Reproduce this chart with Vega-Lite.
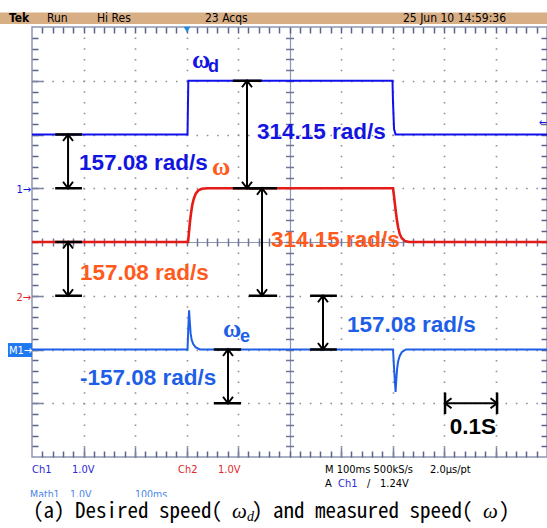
{
  "$schema": "https://vega.github.io/schema/vega-lite/v6.json",
  "width": 515,
  "height": 430,
  "autosize": {"type": "none"},
  "padding": {"left": 32, "top": 27, "right": 0, "bottom": 71},
  "background": "white",
  "config": {"view": {"stroke": "#8E97B3", "strokeWidth": 1.5}},
  "datasets": {
    "traces": [
      {"t": 0, "v": 2, "series": "wd"}, {"t": 302, "v": 2, "series": "wd"}, {"t": 303.5, "v": 3, "series": "wd"},
      {"t": 700, "v": 3, "series": "wd"}, {"t": 701, "v": 2.6, "series": "wd"}, {"t": 703, "v": 2.1, "series": "wd"},
      {"t": 706, "v": 2, "series": "wd"}, {"t": 1000, "v": 2, "series": "wd"},
      {"t": 0, "v": 0, "series": "w"}, {"t": 303, "v": 0, "series": "w"}, {"t": 305, "v": 0.2, "series": "w"},
      {"t": 307, "v": 0.4, "series": "w"}, {"t": 309, "v": 0.55, "series": "w"}, {"t": 311, "v": 0.68, "series": "w"},
      {"t": 314, "v": 0.8, "series": "w"}, {"t": 318, "v": 0.9, "series": "w"}, {"t": 323, "v": 0.96, "series": "w"},
      {"t": 330, "v": 0.99, "series": "w"}, {"t": 340, "v": 1, "series": "w"}, {"t": 701, "v": 1, "series": "w"},
      {"t": 703, "v": 0.85, "series": "w"}, {"t": 705, "v": 0.68, "series": "w"}, {"t": 707, "v": 0.52, "series": "w"},
      {"t": 709, "v": 0.38, "series": "w"}, {"t": 711, "v": 0.27, "series": "w"}, {"t": 714, "v": 0.15, "series": "w"},
      {"t": 718, "v": 0.07, "series": "w"}, {"t": 724, "v": 0.02, "series": "w"}, {"t": 732, "v": 0, "series": "w"},
      {"t": 1000, "v": 0, "series": "w"},
      {"t": 0, "v": -2, "series": "we"}, {"t": 302, "v": -2, "series": "we"}, {"t": 303.5, "v": -1.6, "series": "we"},
      {"t": 305, "v": -1.27, "series": "we"}, {"t": 306.5, "v": -1.5, "series": "we"}, {"t": 308, "v": -1.7, "series": "we"},
      {"t": 310, "v": -1.82, "series": "we"}, {"t": 313, "v": -1.9, "series": "we"}, {"t": 318, "v": -1.96, "series": "we"},
      {"t": 326, "v": -2, "series": "we"}, {"t": 701, "v": -2, "series": "we"}, {"t": 703, "v": -2.35, "series": "we"},
      {"t": 705, "v": -2.65, "series": "we"}, {"t": 706, "v": -2.79, "series": "we"}, {"t": 707.5, "v": -2.55, "series": "we"},
      {"t": 709, "v": -2.35, "series": "we"}, {"t": 711, "v": -2.22, "series": "we"}, {"t": 714, "v": -2.12, "series": "we"},
      {"t": 718, "v": -2.05, "series": "we"}, {"t": 726, "v": -2, "series": "we"}, {"t": 1000, "v": -2, "series": "we"}
    ],
    "arrows": [
      {"x": 70, "xl": 45, "xr": 97, "y1": 2, "y2": 1},
      {"x": 417.5, "xl": 390, "xr": 446, "y1": 3, "y2": 1},
      {"x": 446.6, "xl": 421, "xr": 476, "y1": 1, "y2": -1},
      {"x": 70, "xl": 45, "xr": 97, "y1": 0, "y2": -1},
      {"x": 380.6, "xl": 353, "xr": 406, "y1": -2, "y2": -3},
      {"x": 565, "xl": 540, "xr": 592, "y1": -1, "y2": -2}
    ],
    "harrow": [{"x1": 802, "x2": 903, "y": -3, "yt": -2.8, "yb": -3.2}],
    "trig": [{"x": 301, "y": 3.95}],
    "boxes": [
      {"kind": "hdr", "x": -63, "x2": 1000, "y": 4.27, "y2": 4.056},
      {"kind": "m1", "x": -46.6, "x2": 0, "y": -1.88, "y2": -2.14},
      {"kind": "cover", "x": -63, "x2": 1000, "y": -4.745, "y2": -5.4}
    ],
    "labels": [
      {"text": "157.08 rad/s", "x": 91.3, "y": 1.34, "role": "big", "series": "wd"},
      {"text": "314.15 rad/s", "x": 436.9, "y": 1.91, "role": "big", "series": "wd"},
      {"text": "314.15 rad/s", "x": 464, "y": -0.093, "role": "big", "series": "wl"},
      {"text": "157.08 rad/s", "x": 93.2, "y": -0.707, "role": "big", "series": "wl"},
      {"text": "-157.08 rad/s", "x": 93.2, "y": -2.66, "role": "big", "series": "we"},
      {"text": "157.08 rad/s", "x": 611.7, "y": -1.674, "role": "big", "series": "we"},
      {"text": "0.1S", "x": 811, "y": -3.572, "role": "big", "series": "k"},
      {"text": "ω", "x": 310.7, "y": 3.237, "role": "omega", "series": "wd"},
      {"text": "ω", "x": 349.5, "y": 1.2465, "role": "omega", "series": "wl"},
      {"text": "ω", "x": 370.9, "y": -1.767, "role": "omega", "series": "we"},
      {"text": "d", "x": 341.7, "y": 3.163, "role": "sub", "series": "wd"},
      {"text": "e", "x": 403.9, "y": -1.86, "role": "sub", "series": "we"},
      {"text": "Tek", "x": -44.7, "y": 4.084, "role": "tek", "series": "k"},
      {"text": "Run", "x": 29.1, "y": 4.084, "role": "hdr", "series": "k"},
      {"text": "Hi Res", "x": 126.2, "y": 4.084, "role": "hdr", "series": "k"},
      {"text": "23 Acqs", "x": 335.9, "y": 4.084, "role": "hdr", "series": "k"},
      {"text": "25 Jun 10 14:59:36", "x": 720.4, "y": 4.084, "role": "hdr", "series": "k"},
      {"text": "Ch1", "x": 0, "y": -4.298, "role": "stat", "series": "ch1"},
      {"text": "1.0V", "x": 77.7, "y": -4.298, "role": "stat", "series": "ch1"},
      {"text": "Ch2", "x": 283.5, "y": -4.298, "role": "stat", "series": "ch2"},
      {"text": "1.0V", "x": 361.2, "y": -4.298, "role": "stat", "series": "ch2"},
      {"text": "M 100ms 500kS/s", "x": 569, "y": -4.298, "role": "stat", "series": "k"},
      {"text": "2.0μs/pt", "x": 772.8, "y": -4.298, "role": "stat", "series": "k"},
      {"text": "A", "x": 569, "y": -4.558, "role": "stat", "series": "k"},
      {"text": "Ch1", "x": 594.2, "y": -4.558, "role": "stat", "series": "ch1"},
      {"text": "/", "x": 650.5, "y": -4.558, "role": "stat", "series": "k"},
      {"text": "1.24V", "x": 675.7, "y": -4.558, "role": "stat", "series": "k"},
      {"text": "Math1", "x": -3.9, "y": -4.77, "role": "math", "series": "math"},
      {"text": "1.0V", "x": 73.8, "y": -4.77, "role": "math", "series": "math"},
      {"text": "100ms", "x": 200, "y": -4.77, "role": "math", "series": "math"},
      {"text": "M1→", "x": -44.7, "y": -2.08, "role": "m1", "series": "k"},
      {"text": "1→", "x": -1.9, "y": 0.92, "role": "mk", "series": "wd"},
      {"text": "2→", "x": -1.9, "y": -1.09, "role": "mk", "series": "ch2"},
      {"text": "←", "x": 1000, "y": 2.16, "role": "mk2", "series": "wd"},
      {"text": "(a) Desired speed( ", "x": 1.94, "y": -5.135, "role": "cap", "series": "k"},
      {"text": ") and measured speed( ", "x": 427.2, "y": -5.135, "role": "cap", "series": "k"},
      {"text": ")", "x": 906.8, "y": -5.135, "role": "cap", "series": "k"},
      {"text": "ω", "x": 388.3, "y": -5.135, "role": "capit", "series": "k"},
      {"text": "ω", "x": 875.7, "y": -5.135, "role": "capit", "series": "k"},
      {"text": "d", "x": 417.5, "y": -5.19, "role": "capsub", "series": "k"}
    ]
  },
  "resolve": {"scale": {"x": "independent", "y": "independent"}, "axis": {"x": "independent", "y": "independent"}},
  "layer": [
    {
      "data": {"name": "traces"},
      "transform": [{"filter": "datum.series === 'wd'"}],
      "mark": {"type": "line", "strokeWidth": 2, "color": "#1010EE"},
      "encoding": {
        "x": {"field": "t", "type": "quantitative", "scale": {"domain": [0, 1000], "nice": false, "zero": false},
          "axis": {"orient": "bottom", "title": null, "labels": false, "ticks": false, "domain": false, "grid": true,
            "values": [100, 200, 300, 400, 600, 700, 800, 900], "gridColor": "#8F8F8F", "gridWidth": 1.6, "gridDash": [1.6, 9.15], "gridDashOffset": 0.8}},
        "y": {"field": "v", "type": "quantitative", "scale": {"domain": [-4, 4], "nice": false, "zero": false},
          "axis": {"orient": "left", "title": null, "labels": false, "ticks": false, "domain": false, "grid": true,
            "values": [-3, -2, -1, 1, 2, 3], "gridColor": "#8F8F8F", "gridWidth": 1.6, "gridDash": [1.6, 8.7], "gridDashOffset": 0.8}}
      }
    },
    {
      "data": {"name": "traces"},
      "transform": [{"filter": "datum.series === 'w'"}],
      "mark": {"type": "line", "strokeWidth": 2.6, "color": "#E41B17"},
      "encoding": {
        "x": {"field": "t", "type": "quantitative", "scale": {"domain": [0, 1000], "nice": false, "zero": false},
          "axis": {"orient": "bottom", "offset": -6, "title": null, "labels": false, "ticks": true, "tickSize": 6, "tickWidth": 1.5, "tickColor": "#5A6488", "domain": false, "grid": false,
            "values": [20,40,60,80,100,120,140,160,180,200,220,240,260,280,300,320,340,360,380,400,420,440,460,480,500,520,540,560,580,600,620,640,660,680,700,720,740,760,780,800,820,840,860,880,900,920,940,960,980]}},
        "y": {"field": "v", "type": "quantitative", "scale": {"domain": [-4, 4], "nice": false, "zero": false},
          "axis": {"orient": "left", "offset": -6, "title": null, "labels": false, "ticks": true, "tickSize": 6, "tickWidth": 1.5, "tickColor": "#5A6488", "domain": false, "grid": false,
            "values": [-3.8,-3.6,-3.4,-3.2,-3,-2.8,-2.6,-2.4,-2.2,-2,-1.8,-1.6,-1.4,-1.2,-1,-0.8,-0.6,-0.4,-0.2,0,0.2,0.4,0.6,0.8,1,1.2,1.4,1.6,1.8,2,2.2,2.4,2.6,2.8,3,3.2,3.4,3.6,3.8]}}
      }
    },
    {
      "data": {"name": "traces"},
      "transform": [{"filter": "datum.series === 'we'"}],
      "mark": {"type": "line", "strokeWidth": 2, "color": "#1F5FE8"},
      "encoding": {
        "x": {"field": "t", "type": "quantitative", "scale": {"domain": [0, 1000], "nice": false, "zero": false},
          "axis": {"orient": "top", "offset": -6, "title": null, "labels": false, "ticks": true, "tickSize": 6, "tickWidth": 1.5, "tickColor": "#5A6488", "domain": false, "grid": false,
            "values": [20,40,60,80,100,120,140,160,180,200,220,240,260,280,300,320,340,360,380,400,420,440,460,480,500,520,540,560,580,600,620,640,660,680,700,720,740,760,780,800,820,840,860,880,900,920,940,960,980]}},
        "y": {"field": "v", "type": "quantitative", "scale": {"domain": [-4, 4], "nice": false, "zero": false},
          "axis": {"orient": "right", "offset": -6, "title": null, "labels": false, "ticks": true, "tickSize": 6, "tickWidth": 1.5, "tickColor": "#5A6488", "domain": false, "grid": false,
            "values": [-3.8,-3.6,-3.4,-3.2,-3,-2.8,-2.6,-2.4,-2.2,-2,-1.8,-1.6,-1.4,-1.2,-1,-0.8,-0.6,-0.4,-0.2,0,0.2,0.4,0.6,0.8,1,1.2,1.4,1.6,1.8,2,2.2,2.4,2.6,2.8,3,3.2,3.4,3.6,3.8]}}
      }
    },
    {
      "data": {"name": "arrows"},
      "mark": {"type": "rule", "color": "black", "strokeWidth": 2},
      "encoding": {
        "x": {"field": "x", "type": "quantitative", "scale": {"domain": [0, 1000], "nice": false, "zero": false},
          "axis": {"orient": "bottom", "offset": -219, "title": null, "labels": false, "ticks": true, "tickSize": 8, "tickWidth": 1.5, "tickColor": "#6C7698", "domain": false, "grid": false,
            "values": [20,40,60,80,100,120,140,160,180,200,220,240,260,280,300,320,340,360,380,400,420,440,460,480,500,520,540,560,580,600,620,640,660,680,700,720,740,760,780,800,820,840,860,880,900,920,940,960,980]}},
        "y": {"field": "y1", "type": "quantitative", "scale": {"domain": [-4, 4], "nice": false, "zero": false},
          "axis": {"orient": "left", "offset": -261.5, "title": null, "labels": false, "ticks": true, "tickSize": 8, "tickWidth": 1.5, "tickColor": "#6C7698", "domain": false, "grid": false,
            "values": [-3.8,-3.6,-3.4,-3.2,-3,-2.8,-2.6,-2.4,-2.2,-2,-1.8,-1.6,-1.4,-1.2,-1,-0.8,-0.6,-0.4,-0.2,0,0.2,0.4,0.6,0.8,1,1.2,1.4,1.6,1.8,2,2.2,2.4,2.6,2.8,3,3.2,3.4,3.6,3.8]}},
        "y2": {"field": "y2"}
      }
    },
    {
      "data": {"name": "arrows"},
      "mark": {"type": "rule", "color": "black", "strokeWidth": 2.5},
      "encoding": {
        "x": {"field": "xl", "type": "quantitative", "scale": {"domain": [0, 1000], "nice": false, "zero": false},
          "axis": {"orient": "bottom", "offset": -10, "title": null, "labels": false, "ticks": true, "tickSize": 10, "tickWidth": 1.5, "tickColor": "#7C84A2", "domain": false, "grid": false,
            "values": [100, 200, 300, 400, 600, 700, 800, 900]}},
        "x2": {"field": "xr"},
        "y": {"field": "y1", "type": "quantitative", "scale": {"domain": [-4, 4], "nice": false, "zero": false},
          "axis": {"orient": "left", "offset": -11, "title": null, "labels": false, "ticks": true, "tickSize": 11, "tickWidth": 1.5, "tickColor": "#7C84A2", "domain": false, "grid": false,
            "values": [-3, -2, -1, 1, 2, 3]}}
      }
    },
    {
      "data": {"name": "arrows"},
      "mark": {"type": "rule", "color": "black", "strokeWidth": 2.5},
      "encoding": {
        "x": {"field": "xl", "type": "quantitative", "scale": {"domain": [0, 1000], "nice": false, "zero": false},
          "axis": {"orient": "top", "title": null, "labels": false, "ticks": false, "domain": false, "grid": true,
            "values": [500], "gridColor": "#8E97B3", "gridWidth": 1.2, "gridDash": []}},
        "x2": {"field": "xr"},
        "y": {"field": "y2", "type": "quantitative", "scale": {"domain": [-4, 4], "nice": false, "zero": false},
          "axis": {"orient": "right", "title": null, "labels": false, "ticks": false, "domain": false, "grid": true,
            "values": [0], "gridColor": "#8E97B3", "gridWidth": 1.2, "gridDash": []}}
      }
    },
    {
      "data": {"name": "arrows"},
      "mark": {"type": "point", "shape": "M-1,1.3L0,0L1,1.3", "filled": false, "color": "black", "strokeWidth": 2, "size": 100, "opacity": 1},
      "encoding": {
        "x": {"field": "x", "type": "quantitative", "scale": {"domain": [0, 1000], "nice": false, "zero": false}, "axis": null},
        "y": {"field": "y1", "type": "quantitative", "scale": {"domain": [-4, 4], "nice": false, "zero": false}, "axis": null}
      }
    },
    {
      "data": {"name": "arrows"},
      "mark": {"type": "point", "shape": "M-1,1.3L0,0L1,1.3", "angle": 180, "filled": false, "color": "black", "strokeWidth": 2, "size": 100, "opacity": 1},
      "encoding": {
        "x": {"field": "x", "type": "quantitative", "scale": {"domain": [0, 1000], "nice": false, "zero": false}, "axis": null},
        "y": {"field": "y2", "type": "quantitative", "scale": {"domain": [-4, 4], "nice": false, "zero": false}, "axis": null}
      }
    },
    {
      "data": {"name": "harrow"},
      "mark": {"type": "rule", "color": "black", "strokeWidth": 2},
      "encoding": {
        "x": {"field": "x1", "type": "quantitative", "scale": {"domain": [0, 1000], "nice": false, "zero": false}, "axis": null},
        "x2": {"field": "x2"},
        "y": {"field": "y", "type": "quantitative", "scale": {"domain": [-4, 4], "nice": false, "zero": false}, "axis": null}
      }
    },
    {
      "data": {"name": "harrow"},
      "mark": {"type": "rule", "color": "black", "strokeWidth": 2.5},
      "encoding": {
        "x": {"field": "x1", "type": "quantitative", "scale": {"domain": [0, 1000], "nice": false, "zero": false}, "axis": null},
        "y": {"field": "yt", "type": "quantitative", "scale": {"domain": [-4, 4], "nice": false, "zero": false}, "axis": null},
        "y2": {"field": "yb"}
      }
    },
    {
      "data": {"name": "harrow"},
      "mark": {"type": "rule", "color": "black", "strokeWidth": 2.5},
      "encoding": {
        "x": {"field": "x2", "type": "quantitative", "scale": {"domain": [0, 1000], "nice": false, "zero": false}, "axis": null},
        "y": {"field": "yt", "type": "quantitative", "scale": {"domain": [-4, 4], "nice": false, "zero": false}, "axis": null},
        "y2": {"field": "yb"}
      }
    },
    {
      "data": {"name": "harrow"},
      "mark": {"type": "point", "shape": "M-1,1.3L0,0L1,1.3", "angle": 270, "filled": false, "color": "black", "strokeWidth": 2, "size": 100, "opacity": 1},
      "encoding": {
        "x": {"field": "x1", "type": "quantitative", "scale": {"domain": [0, 1000], "nice": false, "zero": false}, "axis": null},
        "y": {"field": "y", "type": "quantitative", "scale": {"domain": [-4, 4], "nice": false, "zero": false}, "axis": null}
      }
    },
    {
      "data": {"name": "harrow"},
      "mark": {"type": "point", "shape": "M-1,1.3L0,0L1,1.3", "angle": 90, "filled": false, "color": "black", "strokeWidth": 2, "size": 100, "opacity": 1},
      "encoding": {
        "x": {"field": "x2", "type": "quantitative", "scale": {"domain": [0, 1000], "nice": false, "zero": false}, "axis": null},
        "y": {"field": "y", "type": "quantitative", "scale": {"domain": [-4, 4], "nice": false, "zero": false}, "axis": null}
      }
    },
    {
      "data": {"name": "trig"},
      "mark": {"type": "point", "shape": "triangle-down", "filled": true, "color": "#1E8CDC", "size": 45, "opacity": 1},
      "encoding": {
        "x": {"field": "x", "type": "quantitative", "scale": {"domain": [0, 1000], "nice": false, "zero": false}, "axis": null},
        "y": {"field": "y", "type": "quantitative", "scale": {"domain": [-4, 4], "nice": false, "zero": false}, "axis": null}
      }
    },
    {
      "data": {"name": "boxes"},
      "transform": [{"filter": "datum.kind === 'hdr'"}],
      "mark": {"type": "rect", "color": "#D8AE85"},
      "encoding": {
        "x": {"field": "x", "type": "quantitative", "scale": {"domain": [0, 1000], "nice": false, "zero": false}, "axis": null},
        "x2": {"field": "x2"},
        "y": {"field": "y", "type": "quantitative", "scale": {"domain": [-4, 4], "nice": false, "zero": false}, "axis": null},
        "y2": {"field": "y2"}
      }
    },
    {
      "data": {"name": "labels"},
      "transform": [{"filter": "datum.role === 'big'"}],
      "mark": {"type": "text", "align": "left", "baseline": "alphabetic", "font": "Liberation Sans, Arial, sans-serif", "fontWeight": "bold", "fontSize": 22.5},
      "encoding": {
        "x": {"field": "x", "type": "quantitative", "scale": {"domain": [0, 1000], "nice": false, "zero": false}, "axis": null},
        "y": {"field": "y", "type": "quantitative", "scale": {"domain": [-4, 4], "nice": false, "zero": false}, "axis": null},
        "text": {"field": "text"},
        "color": {"field": "series", "type": "nominal", "legend": null,
          "scale": {"domain": ["wd", "wl", "we", "k", "ch1", "ch2", "math"], "range": ["#1414E0", "#FF5A1E", "#1F5FE8", "#000000", "#2A2AD8", "#E02828", "#4A86E8"]}}
      }
    },
    {
      "data": {"name": "labels"},
      "transform": [{"filter": "datum.role === 'omega'"}],
      "mark": {"type": "text", "align": "left", "baseline": "alphabetic", "font": "Liberation Serif, serif", "fontWeight": "bold", "fontSize": 25},
      "encoding": {
        "x": {"field": "x", "type": "quantitative", "scale": {"domain": [0, 1000], "nice": false, "zero": false}, "axis": null},
        "y": {"field": "y", "type": "quantitative", "scale": {"domain": [-4, 4], "nice": false, "zero": false}, "axis": null},
        "text": {"field": "text"},
        "color": {"field": "series", "type": "nominal", "legend": null,
          "scale": {"domain": ["wd", "wl", "we", "k", "ch1", "ch2", "math"], "range": ["#1414E0", "#FF5A1E", "#1F5FE8", "#000000", "#2A2AD8", "#E02828", "#4A86E8"]}}
      }
    },
    {
      "data": {"name": "labels"},
      "transform": [{"filter": "datum.role === 'sub'"}],
      "mark": {"type": "text", "align": "left", "baseline": "alphabetic", "font": "Liberation Sans, Arial, sans-serif", "fontWeight": "bold", "fontSize": 18},
      "encoding": {
        "x": {"field": "x", "type": "quantitative", "scale": {"domain": [0, 1000], "nice": false, "zero": false}, "axis": null},
        "y": {"field": "y", "type": "quantitative", "scale": {"domain": [-4, 4], "nice": false, "zero": false}, "axis": null},
        "text": {"field": "text"},
        "color": {"field": "series", "type": "nominal", "legend": null,
          "scale": {"domain": ["wd", "wl", "we", "k", "ch1", "ch2", "math"], "range": ["#1414E0", "#FF5A1E", "#1F5FE8", "#000000", "#2A2AD8", "#E02828", "#4A86E8"]}}
      }
    },
    {
      "data": {"name": "labels"},
      "transform": [{"filter": "datum.role === 'hdr'"}],
      "mark": {"type": "text", "align": "left", "baseline": "alphabetic", "font": "Liberation Sans Narrow, DejaVu Sans Condensed, sans-serif", "fontSize": 12, "color": "black"},
      "encoding": {
        "x": {"field": "x", "type": "quantitative", "scale": {"domain": [0, 1000], "nice": false, "zero": false}, "axis": null},
        "y": {"field": "y", "type": "quantitative", "scale": {"domain": [-4, 4], "nice": false, "zero": false}, "axis": null},
        "text": {"field": "text"}
      }
    },
    {
      "data": {"name": "labels"},
      "transform": [{"filter": "datum.role === 'tek'"}],
      "mark": {"type": "text", "align": "left", "baseline": "alphabetic", "font": "Liberation Sans Narrow, DejaVu Sans Condensed, sans-serif", "fontWeight": "bold", "fontSize": 12, "color": "black"},
      "encoding": {
        "x": {"field": "x", "type": "quantitative", "scale": {"domain": [0, 1000], "nice": false, "zero": false}, "axis": null},
        "y": {"field": "y", "type": "quantitative", "scale": {"domain": [-4, 4], "nice": false, "zero": false}, "axis": null},
        "text": {"field": "text"}
      }
    },
    {
      "data": {"name": "labels"},
      "transform": [{"filter": "datum.role === 'stat'"}],
      "mark": {"type": "text", "align": "left", "baseline": "alphabetic", "font": "Liberation Sans Narrow, DejaVu Sans Condensed, sans-serif", "fontSize": 11},
      "encoding": {
        "x": {"field": "x", "type": "quantitative", "scale": {"domain": [0, 1000], "nice": false, "zero": false}, "axis": null},
        "y": {"field": "y", "type": "quantitative", "scale": {"domain": [-4, 4], "nice": false, "zero": false}, "axis": null},
        "text": {"field": "text"},
        "color": {"field": "series", "type": "nominal", "legend": null,
          "scale": {"domain": ["wd", "wl", "we", "k", "ch1", "ch2", "math"], "range": ["#1414E0", "#FF5A1E", "#1F5FE8", "#000000", "#2A2AD8", "#E02828", "#4A86E8"]}}
      }
    },
    {
      "data": {"name": "labels"},
      "transform": [{"filter": "datum.role === 'math'"}],
      "mark": {"type": "text", "align": "left", "baseline": "alphabetic", "font": "Liberation Sans Narrow, DejaVu Sans Condensed, sans-serif", "fontSize": 10.5, "color": "#4A86E8"},
      "encoding": {
        "x": {"field": "x", "type": "quantitative", "scale": {"domain": [0, 1000], "nice": false, "zero": false}, "axis": null},
        "y": {"field": "y", "type": "quantitative", "scale": {"domain": [-4, 4], "nice": false, "zero": false}, "axis": null},
        "text": {"field": "text"}
      }
    },
    {
      "data": {"name": "boxes"},
      "transform": [{"filter": "datum.kind === 'cover'"}],
      "mark": {"type": "rect", "color": "white"},
      "encoding": {
        "x": {"field": "x", "type": "quantitative", "scale": {"domain": [0, 1000], "nice": false, "zero": false}, "axis": null},
        "x2": {"field": "x2"},
        "y": {"field": "y", "type": "quantitative", "scale": {"domain": [-4, 4], "nice": false, "zero": false}, "axis": null},
        "y2": {"field": "y2"}
      }
    },
    {
      "data": {"name": "boxes"},
      "transform": [{"filter": "datum.kind === 'm1'"}],
      "mark": {"type": "rect", "color": "#1E78F0"},
      "encoding": {
        "x": {"field": "x", "type": "quantitative", "scale": {"domain": [0, 1000], "nice": false, "zero": false}, "axis": null},
        "x2": {"field": "x2"},
        "y": {"field": "y", "type": "quantitative", "scale": {"domain": [-4, 4], "nice": false, "zero": false}, "axis": null},
        "y2": {"field": "y2"}
      }
    },
    {
      "data": {"name": "labels"},
      "transform": [{"filter": "datum.role === 'm1'"}],
      "mark": {"type": "text", "align": "left", "baseline": "alphabetic", "font": "Liberation Sans Narrow, DejaVu Sans Condensed, sans-serif", "fontSize": 11, "color": "white"},
      "encoding": {
        "x": {"field": "x", "type": "quantitative", "scale": {"domain": [0, 1000], "nice": false, "zero": false}, "axis": null},
        "y": {"field": "y", "type": "quantitative", "scale": {"domain": [-4, 4], "nice": false, "zero": false}, "axis": null},
        "text": {"field": "text"}
      }
    },
    {
      "data": {"name": "labels"},
      "transform": [{"filter": "datum.role === 'mk' || datum.role === 'mk2'"}],
      "mark": {"type": "text", "align": "right", "baseline": "alphabetic", "font": "Liberation Sans Narrow, DejaVu Sans Condensed, sans-serif", "fontSize": 11},
      "encoding": {
        "x": {"field": "x", "type": "quantitative", "scale": {"domain": [0, 1000], "nice": false, "zero": false}, "axis": null},
        "y": {"field": "y", "type": "quantitative", "scale": {"domain": [-4, 4], "nice": false, "zero": false}, "axis": null},
        "text": {"field": "text"},
        "color": {"field": "series", "type": "nominal", "legend": null,
          "scale": {"domain": ["wd", "wl", "we", "k", "ch1", "ch2", "math"], "range": ["#1414E0", "#FF5A1E", "#1F5FE8", "#000000", "#2A2AD8", "#E02828", "#4A86E8"]}}
      }
    },
    {
      "data": {"name": "labels"},
      "transform": [{"filter": "datum.role === 'cap'"}],
      "mark": {"type": "text", "align": "left", "baseline": "alphabetic", "font": "Noto Sans Mono CJK KR, DejaVu Sans Mono, monospace", "fontSize": 21, "color": "black"},
      "encoding": {
        "x": {"field": "x", "type": "quantitative", "scale": {"domain": [0, 1000], "nice": false, "zero": false}, "axis": null},
        "y": {"field": "y", "type": "quantitative", "scale": {"domain": [-4, 4], "nice": false, "zero": false}, "axis": null},
        "text": {"field": "text"}
      }
    },
    {
      "data": {"name": "labels"},
      "transform": [{"filter": "datum.role === 'capit'"}],
      "mark": {"type": "text", "align": "left", "baseline": "alphabetic", "font": "Liberation Serif, serif", "fontStyle": "italic", "fontSize": 21, "color": "black"},
      "encoding": {
        "x": {"field": "x", "type": "quantitative", "scale": {"domain": [0, 1000], "nice": false, "zero": false}, "axis": null},
        "y": {"field": "y", "type": "quantitative", "scale": {"domain": [-4, 4], "nice": false, "zero": false}, "axis": null},
        "text": {"field": "text"}
      }
    },
    {
      "data": {"name": "labels"},
      "transform": [{"filter": "datum.role === 'capsub'"}],
      "mark": {"type": "text", "align": "left", "baseline": "alphabetic", "font": "Liberation Serif, serif", "fontStyle": "italic", "fontSize": 14, "color": "black"},
      "encoding": {
        "x": {"field": "x", "type": "quantitative", "scale": {"domain": [0, 1000], "nice": false, "zero": false}, "axis": null},
        "y": {"field": "y", "type": "quantitative", "scale": {"domain": [-4, 4], "nice": false, "zero": false}, "axis": null},
        "text": {"field": "text"}
      }
    }
  ]
}
